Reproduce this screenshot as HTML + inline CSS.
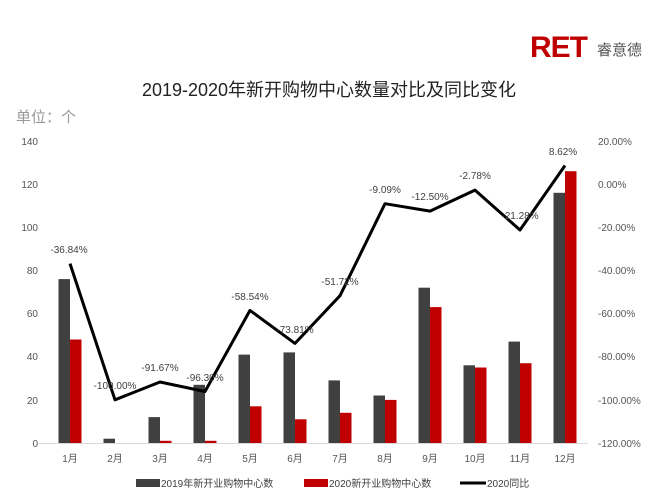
<!DOCTYPE html><html><head><meta charset="utf-8"><style>body{margin:0;background:#fff}svg{display:block}text{font-family:"Liberation Sans","Noto Sans CJK SC",sans-serif}</style></head><body>
<svg width="650" height="501" viewBox="0 0 650 501">
<text x="530" y="57" font-size="30" font-weight="bold" fill="#c00000" letter-spacing="-1">RET</text>
<text x="597" y="55" font-size="15" fill="#555">睿意德</text>
<text x="329" y="96" font-size="18" text-anchor="middle" fill="#222">2019-2020年新开购物中心数量对比及同比变化</text>
<text x="16" y="122" font-size="15" fill="#999">单位：个</text>
<g font-size="10" fill="#555" text-anchor="end">
<text x="38" y="145">140</text><text x="38" y="188">120</text><text x="38" y="231">100</text><text x="38" y="274">80</text><text x="38" y="317">60</text><text x="38" y="360">40</text><text x="38" y="404">20</text><text x="38" y="447">0</text>
</g>
<g font-size="10" fill="#555">
<text x="598" y="145">20.00%</text><text x="598" y="188">0.00%</text><text x="598" y="231">-20.00%</text><text x="598" y="274">-40.00%</text><text x="598" y="317">-60.00%</text><text x="598" y="360">-80.00%</text><text x="598" y="404">-100.00%</text><text x="598" y="447">-120.00%</text>
</g>
<line x1="39" y1="443.5" x2="588" y2="443.5" stroke="#d9d9d9"/>
<g fill="#404040">
<rect x="58.5" y="279.1" width="11.5" height="163.9"/>
<rect x="103.5" y="438.7" width="11.5" height="4.3"/>
<rect x="148.5" y="417.1" width="11.5" height="25.9"/>
<rect x="193.5" y="384.8" width="11.5" height="58.2"/>
<rect x="238.5" y="354.6" width="11.5" height="88.4"/>
<rect x="283.5" y="352.4" width="11.5" height="90.6"/>
<rect x="328.5" y="380.4" width="11.5" height="62.6"/>
<rect x="373.5" y="395.5" width="11.5" height="47.5"/>
<rect x="418.5" y="287.7" width="11.5" height="155.3"/>
<rect x="463.5" y="365.3" width="11.5" height="77.7"/>
<rect x="508.5" y="341.6" width="11.5" height="101.4"/>
<rect x="553.5" y="192.8" width="11.5" height="250.2"/>
</g>
<g fill="#c00000">
<rect x="70" y="339.5" width="11.5" height="103.5"/>
<rect x="160" y="440.8" width="11.5" height="2.2"/>
<rect x="205" y="440.8" width="11.5" height="2.2"/>
<rect x="250" y="406.3" width="11.5" height="36.7"/>
<rect x="295" y="419.3" width="11.5" height="23.7"/>
<rect x="340" y="412.8" width="11.5" height="30.2"/>
<rect x="385" y="399.9" width="11.5" height="43.1"/>
<rect x="430" y="307.1" width="11.5" height="135.9"/>
<rect x="475" y="367.5" width="11.5" height="75.5"/>
<rect x="520" y="363.2" width="11.5" height="79.8"/>
<rect x="565" y="171.2" width="11.5" height="271.8"/>
</g>
<polyline fill="none" stroke="#000" stroke-width="3" stroke-linejoin="round" points="70,263.6 115,399.8 160,382 205,391.5 250,310.4 295,343.4 340,295.7 385,203.7 430,211.1 475,190.1 520,230 565,165.5"/>
<g font-size="10" fill="#404040" text-anchor="middle">
<text x="69" y="253">-36.84%</text><text x="115" y="389">-100.00%</text><text x="160" y="371">-91.67%</text><text x="205" y="381">-96.30%</text><text x="250" y="300">-58.54%</text><text x="295" y="333">-73.81%</text><text x="340" y="285">-51.72%</text><text x="385" y="193">-9.09%</text><text x="430" y="200">-12.50%</text><text x="475" y="179">-2.78%</text><text x="520" y="219">-21.28%</text><text x="563" y="155">8.62%</text>
</g>
<g font-size="10" fill="#555" text-anchor="middle">
<text x="70" y="462">1月</text><text x="115" y="462">2月</text><text x="160" y="462">3月</text><text x="205" y="462">4月</text><text x="250" y="462">5月</text><text x="295" y="462">6月</text><text x="340" y="462">7月</text><text x="385" y="462">8月</text><text x="430" y="462">9月</text><text x="475" y="462">10月</text><text x="520" y="462">11月</text><text x="565" y="462">12月</text>
</g>
<rect x="136" y="479" width="24" height="8" fill="#404040"/>
<text x="161" y="487" font-size="10" fill="#404040">2019年新开业购物中心数</text>
<rect x="304" y="479" width="24" height="8" fill="#c00000"/>
<text x="329" y="487" font-size="10" fill="#404040">2020新开业购物中心数</text>
<line x1="460" y1="483" x2="486" y2="483" stroke="#000" stroke-width="3"/>
<text x="487" y="487" font-size="10" fill="#404040">2020同比</text>
</svg></body></html>
